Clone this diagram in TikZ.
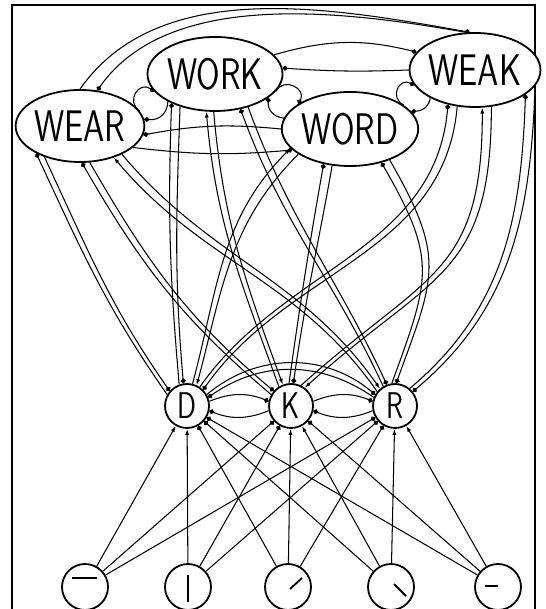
\documentclass[tikz,border=0pt]{standalone}
\usepackage{graphicx}
\usetikzlibrary{shapes.geometric,arrows.meta}
\pgfdeclarelayer{bg}
\pgfsetlayers{bg,main}
\newcommand{\wtxt}[1]{\scalebox{1.0}[1.3]{\sffamily\fontsize{34}{34}\selectfont #1}}
\newcommand{\ltxt}[1]{\scalebox{0.9}[1.2]{\sffamily\fontsize{31}{31}\selectfont #1}}
\begin{document}
\begin{tikzpicture}[x=1pt,y=1pt,
  word/.style={ellipse,draw,fill=white,line width=1.8pt,inner sep=0pt},
  letter/.style={circle,draw,fill=white,line width=1.8pt,inner sep=0pt,minimum size=44pt},
  feat/.style={circle,draw,fill=white,line width=1.8pt,inner sep=0pt,minimum size=46pt},
  ln/.style={line width=1.05pt},
  dotE/.style={ln,-{Circle[length=5pt]}},
  dotS/.style={ln,{Circle[length=5pt]}-},
  arrE/.style={ln,-{Latex[length=6pt,width=4pt]}},
  arrS/.style={ln,{Latex[length=6pt,width=4pt]}-},
  glyph/.style={line width=1.8pt},
  frame/.style={line width=1.5pt}
]
\useasboundingbox (0,0) rectangle (545,609);
\draw[frame] (12,-10) -- (12,604) -- (535,604) -- (535,-10);

% word nodes
\node[word,minimum width=126pt,minimum height=72pt] (WEAR) at (80,483) {\wtxt{WEAR}};
\node[word,minimum width=124pt,minimum height=74pt] (WORK) at (215,535) {\wtxt{WORK}};
\node[word,minimum width=128pt,minimum height=74pt] (WORD) at (350,480) {\wtxt{WORD}};
\node[word,minimum width=116pt,minimum height=74pt] (WEAK) at (475,539) {\wtxt{WEAK}};

% letter nodes
\node[letter] (D) at (187,203) {\ltxt{D}};
\node[letter] (K) at (291,203) {\ltxt{K}};
\node[letter] (R) at (395,203) {\ltxt{R}};

% feature nodes
\node[feat] (F1) at (85,22) {};
\node[feat] (F2) at (188,22) {};
\node[feat] (F3) at (288,22) {};
\node[feat] (F4) at (391,22) {};
\node[feat] (F5) at (498,22) {};
\draw[glyph] ([shift={(-13,9)}]F1.center) -- ([shift={(12,9)}]F1.center);
\draw[glyph] ([shift={(0,12)}]F2.center) -- ([shift={(0,-15)}]F2.center);
\draw[glyph] ([shift={(2,-2)}]F3.center) -- ([shift={(14,9)}]F3.center);
\draw[glyph] ([shift={(3,3)}]F4.center) -- ([shift={(15,-9)}]F4.center);
\draw[glyph] ([shift={(-13,1)}]F5.center) -- ([shift={(0,1)}]F5.center);

\begin{pgfonlayer}{bg}
% word-word inhibition
\draw[dotE] (WEAR.14) to[bend left=90,looseness=1.9] (WORK.196);
\draw[dotS] (WEAR.6) to[bend right=90,looseness=1.9] (WORK.186);
\draw[dotE] (WORK.-16) to[bend left=90,looseness=1.7] (WORD.154);
\draw[dotS] (WORK.-24) to[bend right=90,looseness=1.7] (WORD.146);
\draw[dotE] (WORD.24) to[bend left=90,looseness=1.9] (WEAK.194);
\draw[dotS] (WORD.16) to[bend right=90,looseness=1.9] (WEAK.186);
\draw[dotS] (WEAR.-8) to[bend left=8] (WORD.180);
\draw[dotE] (WEAR.-22) to[bend right=6] (WORD.200);
\draw[dotE] (WORK.18) to[bend left=15] (WEAK.163);
\draw[dotS] (WORK.5) to[bend right=3] (WEAK.180);
\draw[dotE] (WEAR.90) to[out=55,in=170,looseness=0.9] (WEAK.98);
\draw[dotS] (WEAR.64) to[out=55,in=170,looseness=0.85] (WEAK.103);

% letter-letter inhibition
\draw[dotE] (D.12) to[bend left=22] (K.168);
\draw[dotS] (D.-12) to[bend right=22] (K.192);
\draw[dotE] (K.12) to[bend left=22] (R.168);
\draw[dotS] (K.-12) to[bend right=22] (R.192);
\draw[dotE] (D.30) to[out=40,in=140] (R.150);
\draw[dotS] (D.22) to[out=35,in=145] (R.158);

% word-letter connections
\draw[dotS] (WEAR.212) to[out=295,in=125] (D.150);
\draw[dotE] (WEAR.221) to[out=295,in=125] (D.139);
\draw[dotS] (WEAR.273) to[out=300,in=140] (K.150);
\draw[dotE] (WEAR.285) to[out=300,in=140] (K.139);
\draw[arrS] (WEAR.317) to[out=310,in=125] (R.141);
\draw[arrE] (WEAR.326) to[out=310,in=125] (R.131);

\draw[dotS] (WORK.214) to[out=268,in=95] (D.110);
\draw[dotE] (WORK.223) to[out=268,in=95] (D.99);
\draw[arrS] (WORK.257) to[out=275,in=110] (K.122);
\draw[arrE] (WORK.268) to[out=275,in=110] (K.111);
\draw[dotS] (WORK.306) to[out=290,in=115] (R.121);
\draw[dotE] (WORK.315) to[out=290,in=115] (R.111);

\draw[arrS] (WORD.198) to[out=225,in=75] (D.76);
\draw[arrE] (WORD.206) to[out=225,in=75] (D.65);
\draw[dotS] (WORD.233) to[out=260,in=82] (K.95);
\draw[dotE] (WORD.244) to[out=260,in=82] (K.84);
\draw[dotS] (WORD.313) to[out=300,in=70,looseness=1.3] (R.98);
\draw[dotE] (WORD.322) to[out=300,in=70,looseness=1.3] (R.87);

\draw[dotS] (WEAK.232) to[out=265,in=55] (D.56);
\draw[dotE] (WEAK.244) to[out=265,in=55] (D.45);
\draw[arrS] (WEAK.281) to[out=270,in=42,looseness=1.3] (K.64);
\draw[arrE] (WEAK.294) to[out=270,in=42,looseness=1.3] (K.53);
\draw[dotS] (WEAK.334) to[out=268,in=40] (R.50);
\draw[dotE] (WEAK.345) to[out=268,in=40] (R.39);

% feature-letter connections
\draw[arrE] (F1) -- (D);
\draw[dotE] (F1) -- (K);
\draw[dotE] (F1) -- (R);
\draw[arrE] (F2) -- (D);
\draw[dotE] (F2) -- (K);
\draw[dotE] (F2) -- (R);
\draw[dotE] (F3) -- (D);
\draw[arrE] (F3) -- (K);
\draw[dotE] (F3) -- (R);
\draw[dotE] (F4) -- (D);
\draw[arrE] (F4) -- (K);
\draw[arrE] (F4) -- (R);
\draw[dotE] (F5) -- (D);
\draw[dotE] (F5) -- (K);
\draw[arrE] (F5) -- (R);
\end{pgfonlayer}
\end{tikzpicture}
\end{document}
